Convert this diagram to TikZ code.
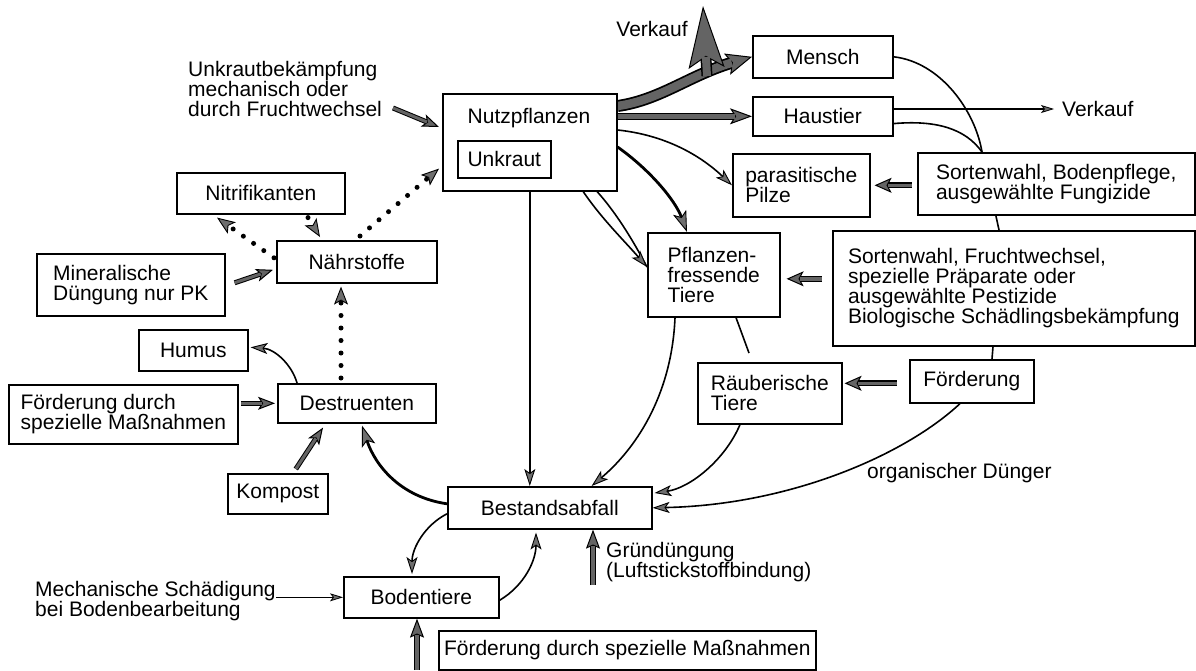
\documentclass[tikz,border=0pt]{standalone}
\usepackage{fontspec}
\setmainfont{Liberation Sans}
\usetikzlibrary{arrows.meta,calc}
\pgfdeclarelayer{background}
\pgfsetlayers{background,main}
\definecolor{fatgray}{RGB}{100,100,100}
\definecolor{tipgray}{RGB}{110,110,110}
\newcommand\fatpath[6]{%
  \draw[line width=#1pt,-{Stealth[length=#3pt,width=#4pt,inset=#5pt,fill=fatgray,line width=1pt]}] #6;
  \pgfmathsetmacro\shr{#3-#5}%
  \draw[line width=#2pt, fatgray, shorten >=\shr pt] #6;}
\begin{document}
\begin{tikzpicture}[x=1pt,y=-1pt, font=\fontsize{21pt}{20pt}\selectfont,
  bx/.style={draw, line width=1.6pt, fill=white, anchor=north west, inner sep=0pt, align=left},
  lbl/.style={inner sep=0pt, align=left},
  thinarr/.style={line width=1.6pt, -{Stealth[length=17pt,width=11pt,inset=4pt,fill=tipgray,line width=0.9pt]}},
  smallarr/.style={line width=1.3pt, -{Stealth[length=13pt,width=8pt,inset=3pt,fill=tipgray,line width=0.8pt]}},
  midarr/.style={line width=2.8pt, -{Stealth[length=21pt,width=14pt,inset=5pt,fill=tipgray,line width=0.9pt]}},
  dotarr/.style={line width=5pt, line cap=round, dash pattern=on 0pt off 12.5pt, -{Stealth[length=18pt,width=14pt,inset=4pt,fill=tipgray,line width=0.9pt]}},
  plainline/.style={line width=1.6pt},
]
\useasboundingbox (0,0) rectangle (1196,670);

% boxes
\node[bx, minimum width=140pt, minimum height=42pt] (Mensch) at (752,35) {Mensch};
\node[bx, minimum width=140pt, minimum height=39pt] (Haus) at (752,96) {Haustier};
\node[bx, minimum width=174pt, minimum height=97pt] (Nutz) at (442,93) {};
\node[lbl] (NutzT) at (529,118) {Nutzpflanzen};
\node[bx, minimum width=93pt, minimum height=37pt] (Unk) at (457,140) {Unkraut};
\node[bx, minimum width=137pt, minimum height=63pt] (Pilze) at (732,153) {parasitische\\Pilze};
\node[bx, minimum width=277pt, minimum height=62pt] (SortA) at (917,152) {Sortenwahl, Bodenpflege,\\ausgewählte Fungizide};
\node[bx, minimum width=362pt, minimum height=115pt] (SortB) at (832,230) {Sortenwahl, Fruchtwechsel,\\spezielle Präparate oder\\ausgewählte Pestizide\\Biologische Schädlingsbekämpfung};
\node[bx, minimum width=132pt, minimum height=84pt] (Pfl) at (647,232) {Pflanzen-\\fressende\\Tiere};
\node[bx, minimum width=144pt, minimum height=61pt] (Raeu) at (697,362) {Räuberische\\Tiere};
\node[bx, minimum width=124pt, minimum height=43pt] (Foer) at (909,359) {Förderung};
\node[bx, minimum width=204pt, minimum height=42pt] (Best) at (447,486) {Bestandsabfall};
\node[bx, minimum width=155pt, minimum height=41pt] (Boden) at (343,576) {Bodentiere};
\node[bx, minimum width=377pt, minimum height=39pt] (FoerB) at (438,630) {Förderung durch spezielle Maßnahmen};
\node[bx, minimum width=100pt, minimum height=40pt] (Komp) at (227,473) {Kompost};
\node[bx, minimum width=229pt, minimum height=59pt] (FoerL) at (8,384) {Förderung durch\\spezielle Maßnahmen};
\node[bx, minimum width=158pt, minimum height=39pt] (Destr) at (277,383) {Destruenten};
\node[bx, minimum width=109pt, minimum height=41pt] (Humus) at (138,329) {Humus};
\node[bx, minimum width=160pt, minimum height=42pt] (Naehr) at (276,240) {Nährstoffe};
\node[bx, minimum width=188pt, minimum height=62pt] (Miner) at (36,253) {Mineralische\\Düngung nur PK};
\node[bx, minimum width=168pt, minimum height=41pt] (Nitri) at (176,172) {Nitrifikanten};

% free texts
\node[lbl] (verkaufA) at (652,29) {Verkauf};
\node[lbl, anchor=west] (verkaufB) at (1062,109) {Verkauf};
\node[lbl, anchor=west] (unkrautbek) at (188,89) {Unkrautbekämpfung\\mechanisch oder\\durch Fruchtwechsel};
\node[lbl, anchor=west] (orgD) at (867,473) {organischer Dünger};
\node[lbl, anchor=west] (gruen) at (606,562) {Gründüngung\\(Luftstickstoffbindung)};
\node[lbl, anchor=west, font=\fontsize{21pt}{18.5pt}\selectfont] (mech) at (35,601) {Mechanische Schädigung\\bei Bodenbearbeitung};

% named free ends
\coordinate (bandpt) at (707,76);
\coordinate (vtip) at (703,6);
\coordinate (nzin) at (558,133);
\coordinate (junc) at ($(SortA.north west)+(65,0)$);
\coordinate (gd) at (593,585);
\coordinate (bb) at (417,670);
\coordinate (ub) at (393,108);

\begin{pgfonlayer}{background}
\fill[white] (0,0) rectangle (1196,670);

% Nutzpflanzen outputs
\fatpath{12}{8.5}{26}{22}{5}{($(Nutz.north east)+(0,13)$) .. controls (660,100) and (690,75) .. (Mensch.west)}
\fatpath{11}{8}{62}{36}{11}{(bandpt) -- (vtip)}
\fatpath{7.5}{4.5}{22}{16}{5}{(Nutz.east |- Haus.west) -- (Haus.west)}
\draw[thinarr] ($(Nutz.north east)+(0,37)$) .. controls (665,135) and (700,155) .. (Pilze.west);
\draw[midarr] ($(Nutz.north east)+(0,54)$) .. controls (650,170) and (675,200) .. ($(Pfl.north west)+(40,0)$);
\draw[plainline] (Unk.east) .. controls (590,170) and (625,225) .. ($(Pfl.north west)+(0,35)$);
\draw[thinarr] (nzin) .. controls (566,185) and (615,230) .. ($(Pfl.north west)+(0,35)$);
\draw[thinarr] (Nutz.south) -- (Nutz.south |- Best.north);

% animals to litter
\draw[thinarr] ($(Pfl.south west)+(28,0)$) .. controls (672,390) and (640,445) .. ($(Best.north east)+(-61,0)$);
\draw[plainline] ($(Pfl.south west)+(89,0)$) -- ($(Raeu.north west)+(52,-9)$);
\draw[thinarr] ($(Raeu.south west)+(43,0)$) .. controls (725,460) and (690,488) .. ($(Best.north east)+(2,7)$);

% long curve Mensch / Haustier -> organischer Duenger
\draw[thinarr] (Mensch.east) .. controls (940,62) and (975,110) .. (junc)
  -- ($(SortB.north west)+(167,0)$) -- ($(SortB.south west)+(161,0)$)
  -- ($(Foer.north west)+(83,0)$) -- ($(Foer.south west)+(51,0)$)
  .. controls (905,455) and (790,505) .. (Best.east);
\draw[plainline] ($(Haus.south east)+(0,-13)$) .. controls (935,120) and (965,128) .. (junc);
\draw[smallarr] ($(Haus.north east)+(0,13)$) -- ($(verkaufB.west)+(-8,0)$);

% measures
\fatpath{6}{3.5}{17}{15}{4}{($(Pilze.east)+(41,0)$) -- ($(Pilze.east)+(4,0)$)}
\fatpath{6}{3.5}{17}{15}{4}{($(Pfl.east)+(41,4)$) -- ($(Pfl.east)+(6,4)$)}
\fatpath{6}{3.5}{17}{15}{4}{($(Raeu.east)+(54,-10)$) -- ($(Raeu.east)+(2,-10)$)}

% litter, soil
\draw[midarr] ($(Best.west)+(0,-4)$) .. controls (400,497) and (375,465) .. ($(Destr.south west)+(85,2)$);
\draw[thinarr] ($(Best.west)+(0,6)$) .. controls (425,525) and (412,548) .. ($(Boden.north west)+(69,-2)$);
\draw[thinarr] ($(Boden.east)+(0,3)$) .. controls (525,585) and (536,560) .. ($(Best.south west)+(89,3)$);
\fatpath{6}{3.5}{19}{14}{3}{(gd) -- (gd |- Best.south)}
\fatpath{6}{3.5}{19}{14}{3}{(bb) -- (bb |- Boden.south)}
\draw[smallarr] (mech.east |- Boden.west) -- (Boden.west);

% left side
\fatpath{5}{3}{17}{13}{4}{($(Komp.north)+(18,-4)$) -- ($(Destr.south west)+(46,4)$)}
\fatpath{5}{3}{17}{13}{4}{($(Destr.west)+(-36,0)$) -- ($(Destr.west)+(-2,0)$)}
\draw[thinarr] ($(Destr.north west)+(20,0)$) .. controls (292,365) and (275,349) .. ($(Humus.east)+(2,-3)$);
\draw[dotarr] ($(Destr.north west)+(64,-5)$) -- ($(Naehr.south west)+(65,3)$);
\draw[dotarr] ($(Naehr.west)+(-2,-4)$) -- ($(Nitri.south west)+(41,3)$);
\draw[dotarr] ($(Nitri.south west)+(132,3)$) -- ($(Naehr.north west)+(44,-3)$);
\draw[dotarr] ($(Naehr.north west)+(84,-4)$) -- ($(Nutz.south west)+(-3,-23)$);
\fatpath{5}{3}{17}{13}{4}{($(Miner.east)+(9,-2)$) -- ($(Naehr.west)+(-3,8)$)}
\fatpath{5}{3}{17}{13}{4}{(ub) -- ($(Nutz.north west)+(-3,34)$)}
\end{pgfonlayer}
\end{tikzpicture}
\end{document}
